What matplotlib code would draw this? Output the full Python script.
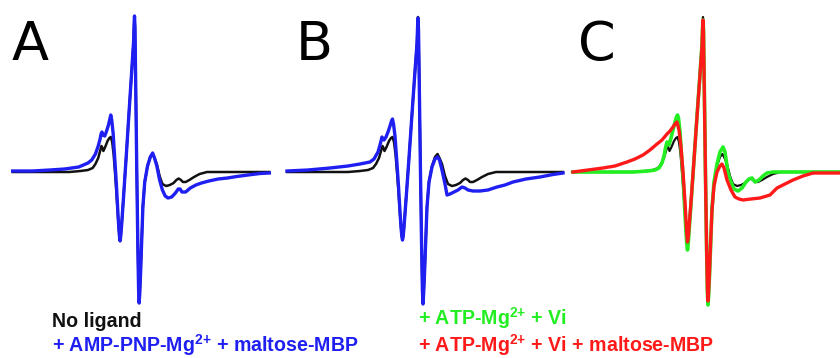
import matplotlib

matplotlib.use("Agg")
import matplotlib.pyplot as plt

plt.rcParams["mathtext.fontset"] = "custom"
plt.rcParams["mathtext.rm"] = "Liberation Sans"
plt.rcParams["mathtext.bf"] = "Liberation Sans:bold"

# Field offset from the central line (arb. units) and derivative signal (arb. units)
black_field = [-131, -70, -58, -50, -45, -42, -39, -37, -35.5, -34.5, -33.5, -31.5, -29, -27, -25.5,
               -24, -22.5, -21, -19.5, -18, -17, -16.2, -15.5, -14.8, -14, -12, -9, -6, -3, -1,
               -0.4, 0, 0.5, 1.2, 2.4, 3.6, 4.4, 5, 5.6, 6.5, 7.5, 9, 11, 14, 17, 19.5, 21.5,
               24, 27, 30, 34, 38, 42, 45, 47.5, 50, 52, 55, 59, 64, 70, 78, 145]
black_signal = [0, 0, 1, 2, 4, 8, 14, 21, 26, 24, 21, 25, 31, 34, 35,
                30, 18, 0, -20, -42, -55, -64, -68, -64, -55, -28, 14, 58, 101, 130,
                148, 155, 145, 95, 5, -75, -118, -131, -122, -102, -75, -35, -10, 6, 15, 18, 14,
                8, -4, -12, -14, -13, -11, -8, -6.5, -8, -10, -10, -8, -5, -2, 0, 0]

blue_a_field = [-131, -110, -91, -75, -60, -55, -50, -46, -42, -39, -37, -36, -35, -34, -32, -30,
                -28, -26.5, -25.5, -24.5, -23, -21, -19.5, -18, -17, -16.2, -15.5, -14.8, -14,
                -12, -9, -6, -3, -1, -0.4, 0, 0.5, 1.2, 2.4, 3.6, 4.4, 5, 5.6, 6.5, 7.5, 9, 11,
                14, 17, 19.5, 21.5, 24, 27, 30, 33, 36, 40, 44, 47, 49, 51, 55, 60, 66, 72, 80,
                90, 100, 110, 122, 135, 145]
blue_a_signal = [1, 1, 2, 3, 5, 7, 9, 12, 18, 26, 33, 38, 40, 37, 36, 41,
                 47, 53, 57, 52, 39, 10, -12, -38, -54, -64, -69, -64, -55,
                 -28, 14, 58, 101, 130, 148, 156, 145, 95, 5, -75, -118, -131, -122, -102, -75, -35, -10,
                 6, 15, 19, 14, 6, -8, -18, -24, -26, -25, -21, -17, -17, -20, -20, -16, -13, -11, -9,
                 -7, -6, -4.5, -3, -1.5, -1]

blue_b_field = [-131, -110, -88, -70, -58, -48, -44, -40, -38, -36, -35, -34, -32, -30,
                -28, -26.5, -25.5, -24.5, -23, -21, -19.5, -18, -17, -16.2, -15.5, -14.8, -14,
                -12, -9, -6, -3, -1, -0.4, 0, 0.5, 1.2, 2.4, 3.6, 4.4, 5, 5.6, 6.5, 7.5, 9, 11,
                14, 17, 19.5, 21.5, 24, 27, 29, 32, 36, 40, 44, 47, 50, 55, 62, 70, 79, 87, 95,
                108, 122, 135, 145]
blue_b_signal = [1, 2, 4, 6, 8, 10, 13, 20, 27, 35, 33, 32, 35, 40,
                 46, 51, 53, 48, 36, 8, -14, -40, -55, -64, -68, -64, -55,
                 -28, 14, 58, 101, 128, 146, 154, 143, 94, 5, -75, -118, -132, -122, -102, -75, -35, -10,
                 5, 13, 15, 12, 2, -12, -23, -22, -20, -18, -15, -16, -18, -19, -19, -18, -15, -13, -10,
                 -7, -5, -2.5, -1]

green_field = [-130, -70, -55, -48, -44, -41, -39, -37.5, -36, -35, -34, -32, -30, -28, -26.5,
               -25.5, -24.5, -23, -21, -19.5, -18, -17, -16.2, -15.5, -14.8, -14, -12, -9, -6, -3,
               -1, -0.4, 0, 0.5, 1.2, 2.4, 3.6, 4.4, 5, 5.6, 6.5, 7.5, 9, 11, 14, 17, 20, 22, 25,
               28, 31, 35, 39, 43, 46, 49, 52, 56, 60, 64, 70, 145]
green_signal = [0, 0, 1, 2, 4, 9, 16, 24, 30, 28, 27, 34, 42, 50, 55,
                57, 54, 40, 10, -14, -42, -60, -72, -78, -72, -60, -32, 12, 56, 98,
                127, 145, 152, 142, 92, 3, -77, -120, -133, -124, -104, -77, -37, -10, 8, 20, 25, 20, -1,
                -10, -17, -19, -16, -10, -7, -6, -10, -8, -4, -1, 0, 0]

red_field = [-130, -115, -100, -88, -76, -68, -60, -53, -46, -41, -36, -33, -30, -28, -26, -24,
             -22, -20, -18, -17, -16.2, -15.5, -14.8, -14, -12, -9, -6, -3, -1, -0.4, 0, 0.5,
             1.2, 2.4, 3.6, 4.4, 5, 5.6, 6.5, 7.5, 9, 11, 14, 17, 19, 21, 24, 28, 32, 36, 40, 48,
             57, 67, 74, 82, 90, 100, 110, 125, 137, 145]
red_signal = [0, 2, 4, 6, 10, 13, 17, 22, 28, 32, 38, 41, 45, 48, 50, 42,
              25, 0, -30, -48, -62, -70, -66, -56, -30, 12, 55, 97, 126, 144, 152, 140,
              90, 2, -76, -117, -129, -120, -100, -74, -38, -14, 0, 6, 8, 4, -8, -18, -25, -27, -28, -27,
              -26, -23, -16, -12, -8, -4, -1, -1, -1, -1]

panel_letters = ["A", "B", "C"]
label_black = "No ligand"
label_blue = r"+ AMP-PNP-Mg$^{\mathbf{2{+}}}$ + maltose-MBP"
label_green = r"+ ATP-Mg$^{\mathbf{2{+}}}$ + Vi"
label_red = r"+ ATP-Mg$^{\mathbf{2{+}}}$ + Vi + maltose-MBP"

BLACK = "#111111"
BLUE = "#1f1ff2"
GREEN = "#22ee22"
RED = "#ff1a1a"

W, H = 840, 358
fig = plt.figure(figsize=(W / 100, H / 100), dpi=100)

# panel boxes in pixels: (left, right, centre-line pixel, pixels per field unit)
panels = [(0, 280, 134.5, 0.93), (280, 565, 418, 1.0), (565, 840, 703, 1.0)]
axes = []
for left, right, cx, s in panels:
    ax = fig.add_axes([left / W, 0, (right - left) / W, 1])
    ax.set_xlim((left - cx) / s, (right - cx) / s)
    ax.set_ylim(172 - H, 172)
    ax.axis("off")
    axes.append(ax)

axes[0].plot(black_field, black_signal, color=BLACK, lw=1.8)
axes[0].plot(blue_a_field, blue_a_signal, color=BLUE, lw=2.4)

axes[1].plot(black_field, black_signal, color=BLACK, lw=1.8)
axes[1].plot(blue_b_field, blue_b_signal, color=BLUE, lw=2.4)

axes[2].plot(black_field, black_signal, color=BLACK, lw=1.6)
axes[2].plot(green_field, green_signal, color=GREEN, lw=2.6)
axes[2].plot(red_field, red_signal, color=RED, lw=2.4)

for letter, xpx in zip(panel_letters, [12, 296, 578]):
    fig.text(xpx / W, 1 - 60 / H, letter, fontsize=39, color="black",
             ha="left", va="baseline", family="DejaVu Sans")

txt = dict(fontsize=14.1, fontweight="bold", family="Liberation Sans",
           ha="left", va="baseline")
fig.text(52 / W, 1 - 327 / H, label_black, color=BLACK, **txt)
fig.text(52 / W, 1 - 352 / H, label_blue, color=BLUE, **txt)
fig.text(418 / W, 1 - 325 / H, label_green, color=GREEN, **txt)
fig.text(418 / W, 1 - 352 / H, label_red, color=RED, **txt)

fig.savefig("out.png", dpi=100)
